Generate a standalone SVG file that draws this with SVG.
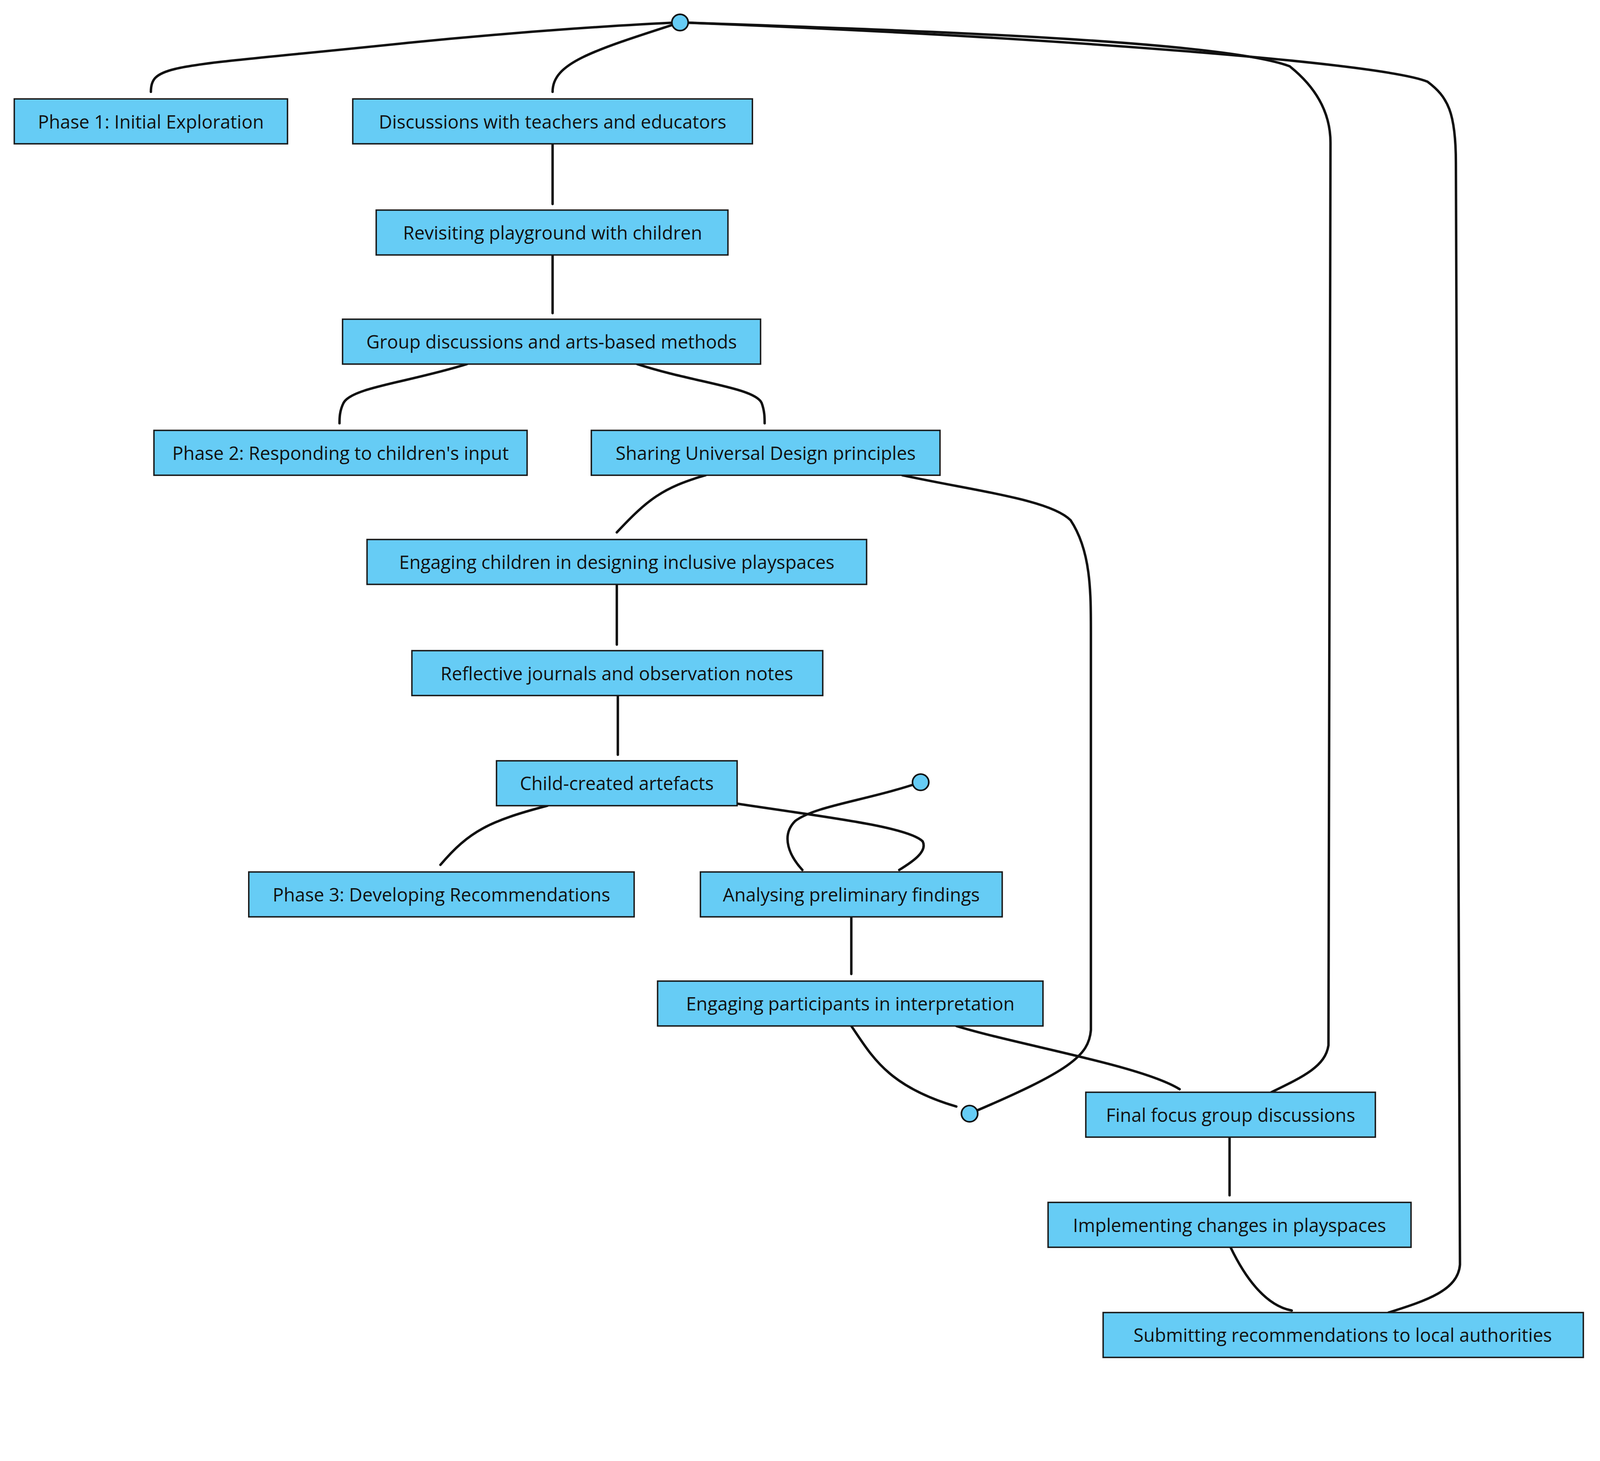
<svg xmlns="http://www.w3.org/2000/svg" width="4354" height="3739" viewBox="0 0 4354 3739">
<style>
.n rect{fill:#66ccf5;stroke:#1a1a1a;stroke-width:1.4}
.n text{font-family:"Open Sans","Liberation Sans",sans-serif;font-size:18px;fill:#111;text-anchor:middle;dominant-baseline:central}
.c path{fill:none;stroke:#111;stroke-width:2.4;stroke-linecap:round}
.d{fill:#66ccf5;stroke:#111;stroke-width:1.6}
</style>
<rect width="4354" height="3739" fill="#fff"/>
<g transform="scale(2.61)">
<g class="c" id="connectors">
<path d="M148,90 C148,62 170,66 400,42 C520,30 620,24 667,22"/>
<path d="M542,90 C542,62 580,50 667,22"/>
<path d="M667,22 C900,30 1200,40 1265,65 C1290,85 1305,110 1305,140 L1303,1025 C1300,1045 1280,1055 1247,1071"/>
<path d="M667,22 C1000,35 1350,60 1400,80 C1420,95 1428,110 1428,160 L1432,1240 C1430,1265 1400,1275 1362,1287"/>
<path d="M542,141 L542,200"/>
<path d="M542,250 L542,307"/>
<path d="M458,357 C400,375 345,380 337,395 C333,403 333,410 333,415"/>
<path d="M625,357 C680,375 740,380 747,395 C750,403 750,410 750,415"/>
<path d="M692,466 C650,478 635,490 605,522"/>
<path d="M885,466 C960,482 1030,490 1050,510 C1070,540 1070,580 1070,620 L1070,1010 C1068,1035 1050,1050 951,1092"/>
<path d="M605,573 L605,632"/>
<path d="M606,682 L606,740"/>
<path d="M537,790 C480,805 460,815 432,848"/>
<path d="M723,788 C800,800 890,810 905,825 C910,835 895,845 882,853"/>
<path d="M903,767 C850,785 800,790 780,805 C765,820 775,840 787,853"/>
<path d="M835,899 L835,955"/>
<path d="M835,1006 C855,1035 870,1065 938,1085"/>
<path d="M938,1006 C1000,1025 1120,1045 1157,1068"/>
<path d="M1206,1115 L1206,1172"/>
<path d="M1207,1223 C1220,1250 1240,1280 1267,1285"/>
</g>
<circle class="d" cx="667" cy="22" r="8"/>
<circle class="d" cx="903" cy="767" r="8"/>
<circle class="d" cx="951" cy="1092" r="8"/>
<g class="n" id="n1"><rect x="14" y="97" width="268" height="44"/><text x="148" y="119">Phase 1: Initial Exploration</text></g>
<g class="n" id="n2"><rect x="346" y="97" width="392" height="44"/><text x="542" y="119">Discussions with teachers and educators</text></g>
<g class="n" id="n3"><rect x="369" y="206" width="345" height="44"/><text x="542" y="228">Revisiting playground with children</text></g>
<g class="n" id="n4"><rect x="336" y="313" width="410" height="44"/><text x="541" y="335">Group discussions and arts-based methods</text></g>
<g class="n" id="n5"><rect x="151" y="422" width="366" height="44"/><text x="334" y="444">Phase 2: Responding to children's input</text></g>
<g class="n" id="n6"><rect x="580" y="422" width="342" height="44"/><text x="751" y="444">Sharing Universal Design principles</text></g>
<g class="n" id="n7"><rect x="360" y="529" width="490" height="44"/><text x="605" y="551">Engaging children in designing inclusive playspaces</text></g>
<g class="n" id="n8"><rect x="404" y="638" width="403" height="44"/><text x="605" y="660">Reflective journals and observation notes</text></g>
<g class="n" id="n9"><rect x="487" y="746" width="236" height="44"/><text x="605" y="768">Child-created artefacts</text></g>
<g class="n" id="n10"><rect x="244" y="855" width="378" height="44"/><text x="433" y="877">Phase 3: Developing Recommendations</text></g>
<g class="n" id="n11"><rect x="687" y="855" width="296" height="44"/><text x="835" y="877">Analysing preliminary findings</text></g>
<g class="n" id="n12"><rect x="645" y="962" width="378" height="44"/><text x="834" y="984">Engaging participants in interpretation</text></g>
<g class="n" id="n13"><rect x="1065" y="1071" width="284" height="44"/><text x="1207" y="1093">Final focus group discussions</text></g>
<g class="n" id="n14"><rect x="1028" y="1179" width="356" height="44"/><text x="1206" y="1201">Implementing changes in playspaces</text></g>
<g class="n" id="n15"><rect x="1082" y="1287" width="471" height="44"/><text x="1317" y="1309">Submitting recommendations to local authorities</text></g>
</g>
</svg>
